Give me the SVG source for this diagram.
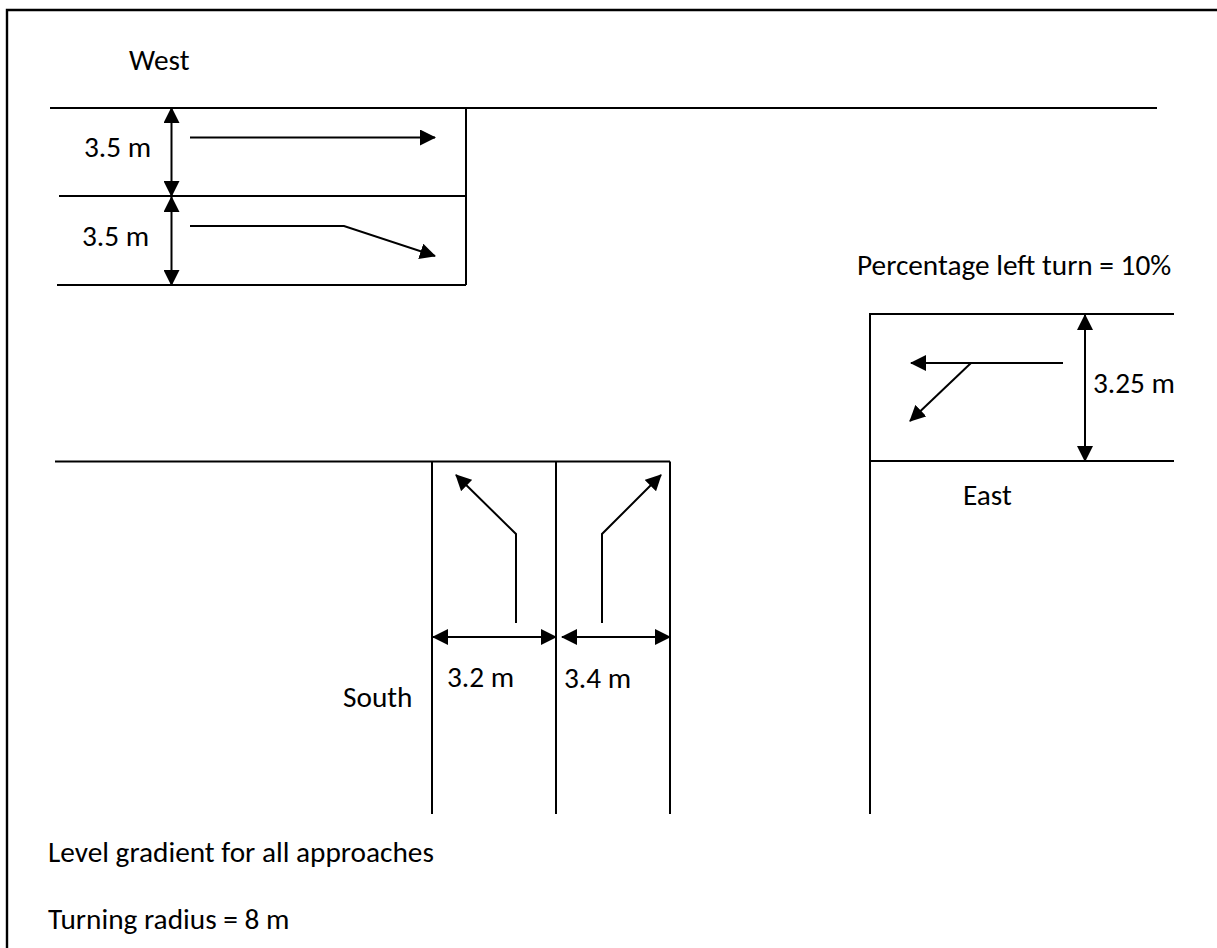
<svg xmlns="http://www.w3.org/2000/svg" width="1217" height="948" viewBox="0 0 1217 948">
<style>
.l{fill:none;stroke:#000;stroke-width:2}
.b{fill:none;stroke:#000;stroke-width:2.4}
.a{marker-end:url(#ah)}
.d{marker-start:url(#ah);marker-end:url(#ah)}
text{font-family:"Carlito","Liberation Sans",sans-serif;font-size:29.3px;fill:#000}
</style>
<defs><marker id="ah" markerUnits="userSpaceOnUse" markerWidth="16" markerHeight="16" refX="15" refY="8" orient="auto-start-reverse" viewBox="0 0 16 16"><path d="M0 0L16 8L0 16Z" fill="#000"/></marker></defs>
<rect width="1217" height="948" fill="#fff"/>
<path class="b" d="M7 948V10H1217"/>
<g id="roads">
<path class="l" d="M50 108H1157M466 108V285M59 196H466M57 285H466"/>
<path class="l" d="M55 461.500H670M432 461.500V814M556 461.500V814M670 461.500V814"/>
<path class="l" d="M1174 314H870V814M870 461H1174"/>
</g>
<g id="connectors">
<path class="l a" d="M190 137.500H435"/>
<path class="l a" d="M190 226H344L435 256"/>
<path class="l d" d="M171.500 108V196"/>
<path class="l d" d="M171.500 197V285"/>
<path class="l a" d="M1063 363H911"/>
<path class="l a" d="M971 363L910 421"/>
<path class="l d" d="M1085 315V461"/>
<path class="l a" d="M516 623V534L456 475"/>
<path class="l a" d="M602 623V534L661 475"/>
<path class="l d" d="M433 637H556"/>
<path class="l d" d="M562 637H670"/>
</g>
<g id="labels">
<text x="129" y="70">West</text>
<text x="84" y="157">3.5 m</text>
<text x="82" y="246">3.5 m</text>
<text x="857" y="275">Percentage left turn = 10%</text>
<text x="1093" y="393">3.25 m</text>
<text x="963" y="505">East</text>
<text x="447" y="687">3.2 m</text>
<text x="564" y="688">3.4 m</text>
<text x="343" y="707">South</text>
<text x="48" y="862">Level gradient for all approaches</text>
<text x="48" y="929">Turning radius = 8 m</text>
</g>
</svg>
